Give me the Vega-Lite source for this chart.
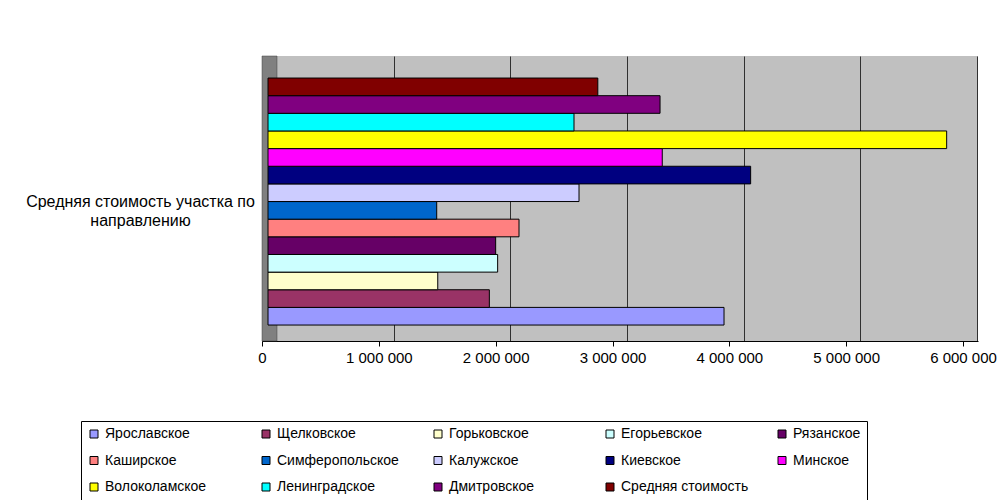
{
  "$schema": "https://vega.github.io/schema/vega-lite/v6.json",
  "autosize": "none",
  "width": 716,
  "height": 285,
  "padding": {"left": 262, "top": 56, "right": 29, "bottom": 159},
  "background": "white",
  "config": {
    "font": "Liberation Sans",
    "view": {"fill": "#C0C0C0", "stroke": null},
    "locale": {"number": {"decimal": ",", "thousands": " ", "grouping": [3], "currency": ["", ""]}}
  },
  "data": {
    "values": [
      {"category": "Средняя стоимость участка по направлению", "series": "Ярославское", "value": 3906000},
      {"category": "Средняя стоимость участка по направлению", "series": "Щелковское", "value": 1896000},
      {"category": "Средняя стоимость участка по направлению", "series": "Горьковское", "value": 1454000},
      {"category": "Средняя стоимость участка по направлению", "series": "Егорьевское", "value": 1967000},
      {"category": "Средняя стоимость участка по направлению", "series": "Рязанское", "value": 1950000},
      {"category": "Средняя стоимость участка по направлению", "series": "Каширское", "value": 2150000},
      {"category": "Средняя стоимость участка по направлению", "series": "Симферопольское", "value": 1445000},
      {"category": "Средняя стоимость участка по направлению", "series": "Калужское", "value": 2664000},
      {"category": "Средняя стоимость участка по направлению", "series": "Киевское", "value": 4134000},
      {"category": "Средняя стоимость участка по направлению", "series": "Минское", "value": 3377000},
      {"category": "Средняя стоимость участка по направлению", "series": "Волоколамское", "value": 5813000},
      {"category": "Средняя стоимость участка по направлению", "series": "Ленинградское", "value": 2621000},
      {"category": "Средняя стоимость участка по направлению", "series": "Дмитровское", "value": 3358000},
      {"category": "Средняя стоимость участка по направлению", "series": "Средняя стоимость", "value": 2825000}
    ]
  },
  "resolve": {"scale": {"x": "independent"}, "axis": {"x": "independent"}},
  "layer": [
    {
      "data": {"values": [{"wall": "left"}]},
      "mark": {"type": "rect", "fill": "#808080", "stroke": "#404040", "strokeWidth": 0.5},
      "encoding": {
        "x": {
          "datum": -128571,
          "type": "quantitative",
          "scale": {"domain": [-128571, 6008571], "nice": false, "zero": false},
          "axis": {
            "values": [1000000, 2000000, 3000000, 4000000, 5000000, 6000000],
            "grid": true,
            "gridColor": "#000000",
            "gridOpacity": 0.75,
            "gridWidth": 1,
            "labels": false,
            "ticks": false,
            "domain": false,
            "title": null,
            "orient": "top"
          }
        },
        "x2": {"datum": 0}
      }
    },
    {
      "mark": {"type": "bar", "stroke": "#000000", "strokeWidth": 1},
      "encoding": {
        "y": {
          "field": "category",
          "type": "nominal",
          "scale": {"paddingInner": 0, "paddingOuter": 0.0769, "align": 0.58},
          "axis": {
            "title": null,
            "ticks": false,
            "domain": true,
            "domainColor": "#000000",
            "labelAlign": "center",
            "labelBaseline": "middle",
            "labelPadding": 122,
            "labelFontSize": 16,
            "labelColor": "#000000",
            "labelLimit": 400,
            "labelLineHeight": 19,
            "labelExpr": "['Средняя стоимость участка по', 'направлению']"
          }
        },
        "yOffset": {
          "field": "series",
          "type": "nominal",
          "sort": ["Средняя стоимость", "Дмитровское", "Ленинградское", "Волоколамское", "Минское", "Киевское", "Калужское", "Симферопольское", "Каширское", "Рязанское", "Егорьевское", "Горьковское", "Щелковское", "Ярославское"],
          "scale": {"paddingInner": 0, "paddingOuter": 0}
        },
        "x": {
          "field": "value",
          "type": "quantitative",
          "scale": {"domain": [-51392, 6081370], "nice": false, "zero": false},
          "axis": null
        },
        "x2": {"datum": 0},
        "color": {
          "field": "series",
          "type": "nominal",
          "scale": {
            "domain": ["Ярославское", "Щелковское", "Горьковское", "Егорьевское", "Рязанское", "Каширское", "Симферопольское", "Калужское", "Киевское", "Минское", "Волоколамское", "Ленинградское", "Дмитровское", "Средняя стоимость"],
            "range": ["#9999FF", "#993366", "#FFFFCC", "#CCFFFF", "#660066", "#FF8080", "#0066CC", "#CCCCFF", "#000080", "#FF00FF", "#FFFF00", "#00FFFF", "#800080", "#800000"]
          },
          "legend": {
            "title": null,
            "orient": "none",
            "direction": "horizontal",
            "legendX": -181,
            "legendY": 365,
            "columns": 5,
            "gridAlign": "all",
            "columnPadding": 26,
            "rowPadding": 12.5,
            "padding": 6,
            "strokeColor": "#000000",
            "fillColor": "#FFFFFF",
            "symbolType": "square",
            "symbolSize": 64,
            "symbolStrokeColor": "#000000",
            "symbolStrokeWidth": 1,
            "symbolOpacity": 1,
            "labelFontSize": 14,
            "labelColor": "#000000",
            "labelOffset": 4,
            "labelLimit": 300
          }
        }
      }
    },
    {
      "mark": {"type": "tick", "opacity": 0},
      "encoding": {
        "x": {
          "field": "value",
          "type": "quantitative",
          "scale": {"domain": [0, 6128388], "nice": false},
          "axis": {
            "orient": "bottom",
            "title": null,
            "grid": false,
            "values": [0, 1000000, 2000000, 3000000, 4000000, 5000000, 6000000],
            "format": ",d",
            "domainColor": "#000000",
            "tickColor": "#000000",
            "tickSize": 5,
            "labelFontSize": 15,
            "labelColor": "#000000",
            "labelPadding": 4,
            "labelFlush": false
          }
        }
      }
    }
  ]
}
